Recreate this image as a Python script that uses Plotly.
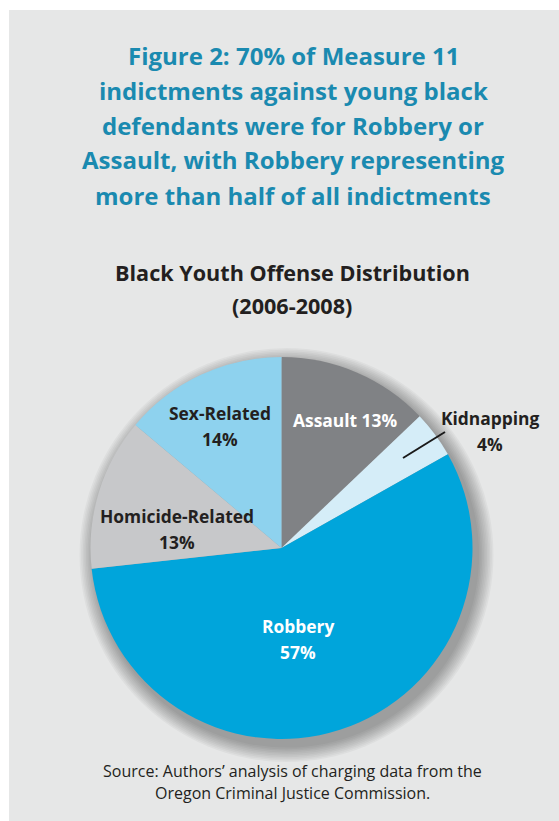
import plotly.graph_objects as go

W, H = 559, 821

# Offense categories and shares (percent), clockwise from 12 o'clock
offenses = ["Assault", "Kidnapping", "Robbery", "Homicide-Related", "Sex-Related"]
shares = [13, 4, 57, 13, 14]
slice_colors = ["#808285", "#d5edf8", "#00a5db", "#c7c8ca", "#8ed2ee"]

title_lines = [
    "Figure 2: 70% of Measure 11",
    "indictments against young black",
    "defendants were for Robbery or",
    "Assault, with Robbery representing",
    "more than half of all indictments",
]
chart_title = ["Black Youth Offense Distribution", "(2006-2008)"]
source_lines = [
    "Source: Authors\u2019 analysis of charging data from the",
    "Oregon Criminal Justice Commission.",
]

FONT = "Open Sans"
TEAL = "#1a8ab0"
DARK = "#231f20"


def px(x):
    return x / W


def py(y):
    return 1 - y / H


# pie geometry in pixels
CX, CY, R = 281.5, 548.0, 191.0

fig = go.Figure()
fig.add_trace(go.Pie(
    labels=offenses,
    values=shares,
    sort=False,
    direction="clockwise",
    rotation=0,
    marker=dict(colors=slice_colors, line=dict(width=0)),
    textinfo="none",
    hoverinfo="label+percent",
    showlegend=False,
    domain=dict(x=[px(CX - R), px(CX + R)], y=[py(CY + R), py(CY - R)]),
))

shapes = [
    # panel background
    dict(type="rect", xref="paper", yref="paper", x0=px(9), x1=1.0, y0=0.0, y1=py(10),
         fillcolor="#e6e7e7", line=dict(width=0), layer="below"),
]
# soft drop shadow under the pie
for i in range(10):
    rr = R + 16 - i * 1.6
    ox, oy = 5, 7
    shapes.append(dict(type="circle", xref="paper", yref="paper",
                       x0=px(CX + ox - rr), x1=px(CX + ox + rr),
                       y0=py(CY + oy + rr), y1=py(CY + oy - rr),
                       fillcolor="rgba(0,0,0,0.036)", line=dict(width=0), layer="below"))
# leader line for the kidnapping slice
shapes.append(dict(type="line", xref="paper", yref="paper",
                   x0=px(403), y0=py(458), x1=px(445), y1=py(432),
                   line=dict(color="#1a1a1a", width=2)))

annotations = []
for i, line in enumerate(title_lines):
    annotations.append(dict(x=px(293), y=py(55 + 35 * i), text=f"<b>{line}</b>",
                            font=dict(family=FONT, size=24, color=TEAL)))
for i, line in enumerate(chart_title):
    annotations.append(dict(x=px(292), y=py(272 + 33 * i), text=f"<b>{line}</b>",
                            font=dict(family=FONT, size=21.6, color=DARK)))
for i, line in enumerate(source_lines):
    annotations.append(dict(x=px(292), y=py(771 + 22 * i), text=line,
                            font=dict(family=FONT, size=16, color=DARK)))

# slice labels: (x, first-line y, color, single-line?)
label_pos = {
    "Assault": (345, 420, "white", True),
    "Kidnapping": (490, 418, DARK, False),
    "Robbery": (298, 626, "white", False),
    "Homicide-Related": (177, 516, DARK, False),
    "Sex-Related": (220, 413, DARK, False),
}
for name, val in zip(offenses, shares):
    x, y, col, single = label_pos[name]
    lines = [f"{name} {val}%"] if single else [name, f"{val}%"]
    for j, t in enumerate(lines):
        annotations.append(dict(x=px(x), y=py(y + 26 * j), text=f"<b>{t}</b>",
                                font=dict(family=FONT, size=17.4, color=col)))

for a in annotations:
    a.update(xref="paper", yref="paper", showarrow=False, xanchor="center", yanchor="middle")

fig.update_layout(
    width=W, height=H,
    margin=dict(l=0, r=0, t=0, b=0),
    paper_bgcolor="white",
    shapes=shapes,
    annotations=annotations,
)

fig.write_html("out.html", config={"displayModeBar": False})
